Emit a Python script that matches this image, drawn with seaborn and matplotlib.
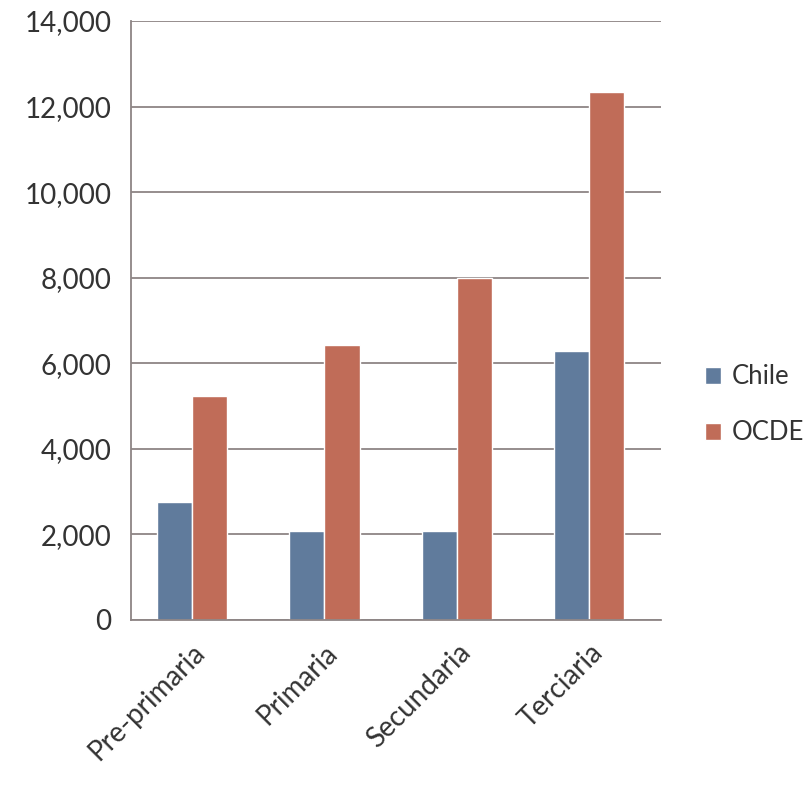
import matplotlib.pyplot as plt
import seaborn as sns
import pandas as pd
from matplotlib.patches import Patch
from matplotlib.ticker import FuncFormatter

niveles = ['Pre-primaria', 'Primaria', 'Secundaria', 'Terciaria']
chile = [2760, 2080, 2080, 6290]
ocde = [5230, 6430, 7990, 12330]
series = ['Chile', 'OCDE']
colores = ['#607B9C', '#C06C58']

df = pd.DataFrame({
    'nivel': niveles * 2,
    'valor': chile + ocde,
    'pais': ['Chile'] * len(niveles) + ['OCDE'] * len(niveles),
})

sns.set_style('white')
plt.rcParams['font.family'] = ['Lato', 'DejaVu Sans']

fig = plt.figure(figsize=(8.07, 7.86), dpi=100)
ax = fig.add_axes([0.1623, 0.2112, 0.819 - 0.1623, 0.9733 - 0.2112])

sns.barplot(data=df, x='nivel', y='valor', hue='pais', palette=colores,
            width=0.53, gap=0, ax=ax, legend=False, saturation=1)

gris = '#8E8585'
ax.set_ylim(0, 14000)
ax.set_xlim(-0.46, 3.54)
ax.set_yticks(range(0, 14001, 2000))
ax.yaxis.set_major_formatter(FuncFormatter(lambda v, p: f'{int(v):,}'))
ax.grid(axis='y', color=gris, linewidth=1.3)
ax.set_axisbelow(True)
for s in ['top', 'right']:
    ax.spines[s].set_visible(False)
for s in ['left', 'bottom']:
    ax.spines[s].set_color(gris)
    ax.spines[s].set_linewidth(1.3)

ax.set_xticks([-0.46, 0.54, 1.54, 2.54, 3.54], minor=True)
ax.tick_params(axis='x', which='minor', length=8, color=gris, width=1.3)
ax.tick_params(axis='x', which='major', length=0, pad=14)
ax.tick_params(axis='y', length=8, color=gris, width=1.3, pad=6)
ax.set_xticks(range(len(niveles)))
ax.set_xticklabels(niveles, rotation=45, ha='right', rotation_mode='anchor',
                   fontsize=20, color='#333333')
for t in ax.get_yticklabels():
    t.set_fontsize(20)
    t.set_color('#333333')
ax.set_xlabel('')
ax.set_ylabel('')

handles = [Patch(facecolor=c, label=s) for s, c in zip(series, colores)]
fig.legend(handles=handles, loc='center left', bbox_to_anchor=(0.873, 0.485),
           frameon=False, fontsize=18.5, handlelength=0.65, handleheight=0.65,
           handletextpad=0.4, labelspacing=1.2, borderpad=0, borderaxespad=0,
           labelcolor='#333333')

fig.savefig('out.png', dpi=100)
